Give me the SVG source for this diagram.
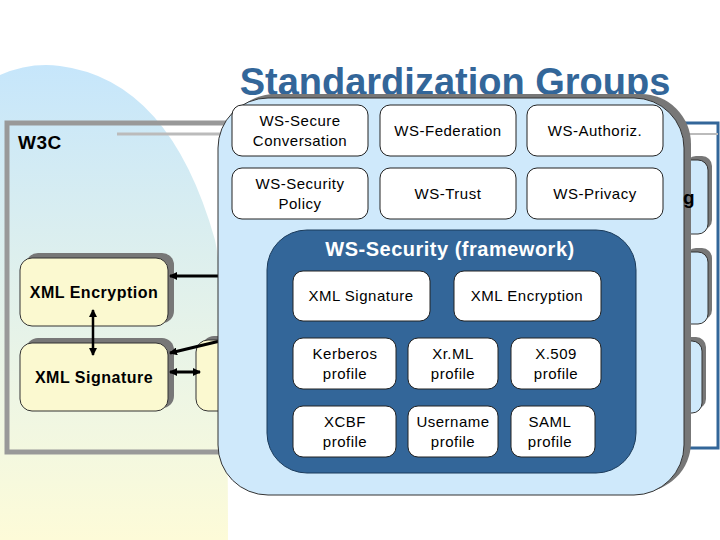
<svg xmlns="http://www.w3.org/2000/svg" width="720" height="540" viewBox="0 0 720 540">
<defs>
<linearGradient id="bg" x1="0" y1="0" x2="0" y2="1"><stop offset="0" stop-color="#c6e6fb"/><stop offset="0.7" stop-color="#eef6e4"/><stop offset="1" stop-color="#fdfbd8"/></linearGradient>
<marker id="ah" markerWidth="8" markerHeight="8" refX="7" refY="4" orient="auto-start-reverse" markerUnits="userSpaceOnUse"><path d="M0,0L8,4L0,8z" fill="#000"/></marker>
<style>
.t{font-family:"Liberation Sans",Arial,sans-serif;font-size:15px;fill:#000;text-anchor:middle;letter-spacing:0.5px}
.b{font-weight:bold}
.wb{fill:#fff;stroke:#222;stroke-width:1}
.yb{fill:#fbf9d0;stroke:#333;stroke-width:1}
.sh{fill:#777}
.c{stroke:#000;stroke-width:3;fill:none}
</style>
</defs>
<rect width="720" height="540" fill="#fff"/>
<path d="M0,75 Q30,62 60,66 Q170,80 215,240 Q228,300 228,540 L0,540Z" fill="url(#bg)"/>
<g id="w3c">
<rect x="7" y="123" width="240" height="329" fill="none" stroke="#999" stroke-width="5"/>
<line x1="117" y1="134" x2="240" y2="134" stroke="#bbb" stroke-width="3"/>
<text x="18" y="149" class="t b" style="text-anchor:start;font-size:19px">W3C</text>
</g>
<g id="right">
<rect x="648" y="123" width="70" height="325" fill="#fff" stroke="#336699" stroke-width="3"/>
<line x1="650" y1="134" x2="718" y2="134" stroke="#bbb" stroke-width="2"/>
<rect x="686" y="156" width="26" height="74" rx="10" class="sh"/><rect x="680" y="160" width="28" height="74" rx="10" fill="#cfe9fb" stroke="#333"/>
<rect x="686" y="248" width="26" height="72" rx="10" class="sh"/><rect x="680" y="252" width="28" height="72" rx="10" fill="#cfe9fb" stroke="#333"/>
<rect x="680" y="337" width="26" height="72" rx="10" class="sh"/><rect x="674" y="341" width="28" height="72" rx="10" fill="#cfe9fb" stroke="#333"/>
</g>
<g id="xmlenc"><rect x="26" y="253" width="148" height="70" rx="12" class="sh"/><rect x="20" y="258" width="148" height="68" rx="12" class="yb"/><text x="94" y="298" class="t b" style="font-size:16px">XML Encryption</text></g>
<g id="xmlsig"><rect x="26" y="338" width="148" height="70" rx="12" class="sh"/><rect x="20" y="343" width="148" height="68" rx="12" class="yb"/><text x="94" y="383" class="t b" style="font-size:16px">XML Signature</text></g>
<g id="partial"><rect x="202" y="336" width="40" height="72" rx="12" class="sh"/><rect x="196" y="340" width="44" height="71" rx="12" class="yb"/></g>
<g id="connectors">
<line x1="220" y1="276" x2="170" y2="276" class="c" marker-end="url(#ah)"/>
<line x1="220" y1="341" x2="170" y2="353" class="c" marker-end="url(#ah)"/>
<line x1="170" y1="372" x2="200" y2="372" class="c" marker-start="url(#ah)" marker-end="url(#ah)"/>
<line x1="93" y1="310" x2="93" y2="355" class="c" marker-start="url(#ah)" marker-end="url(#ah)" style="stroke-width:2.5"/>
</g>
<text x="455" y="95" class="t b" style="font-size:38px;fill:#336699;letter-spacing:0">Standardization Groups</text>
<g id="panel">
<rect x="225" y="94" width="466" height="398" rx="50" class="sh"/>
<rect x="218" y="98" width="466" height="397" rx="50" fill="#cfe9fb" stroke="#333"/>
</g>
<text x="683" y="204" class="t b" style="font-size:19px;text-anchor:start">g</text>
<g id="wssc"><rect x="232" y="105" width="136" height="51" rx="10" class="wb"/><text x="300" y="126" class="t">WS-Secure</text><text x="300" y="146" class="t">Conversation</text></g>
<g id="wsfed"><rect x="380" y="105" width="136" height="51" rx="10" class="wb"/><text x="448" y="136" class="t">WS-Federation</text></g>
<g id="wsauth"><rect x="527" y="105" width="136" height="51" rx="10" class="wb"/><text x="595" y="136" class="t">WS-Authoriz.</text></g>
<g id="wssp"><rect x="232" y="168" width="136" height="51" rx="10" class="wb"/><text x="300" y="189" class="t">WS-Security</text><text x="300" y="209" class="t">Policy</text></g>
<g id="wstrust"><rect x="380" y="168" width="136" height="51" rx="10" class="wb"/><text x="448" y="199" class="t">WS-Trust</text></g>
<g id="wspriv"><rect x="527" y="168" width="136" height="51" rx="10" class="wb"/><text x="595" y="199" class="t">WS-Privacy</text></g>
<g id="wssec">
<rect x="267" y="230" width="369" height="243" rx="40" fill="#336699" stroke="#1a3a5a"/>
<text x="450" y="256" class="t b" style="fill:#fff;font-size:20px">WS-Security (framework)</text>
</g>
<g id="sig"><rect x="293" y="271" width="137" height="50" rx="10" class="wb"/><text x="361" y="301" class="t">XML Signature</text></g>
<g id="enc"><rect x="454" y="271" width="147" height="50" rx="10" class="wb"/><text x="527" y="301" class="t">XML Encryption</text></g>
<g id="kerb"><rect x="293" y="338" width="103" height="51" rx="10" class="wb"/><text x="345" y="359" class="t">Kerberos</text><text x="345" y="379" class="t">profile</text></g>
<g id="xrml"><rect x="408" y="338" width="90" height="51" rx="10" class="wb"/><text x="453" y="359" class="t">Xr.ML</text><text x="453" y="379" class="t">profile</text></g>
<g id="x509"><rect x="511" y="338" width="90" height="51" rx="10" class="wb"/><text x="556" y="359" class="t">X.509</text><text x="556" y="379" class="t">profile</text></g>
<g id="xcbf"><rect x="293" y="406" width="103" height="51" rx="10" class="wb"/><text x="345" y="427" class="t">XCBF</text><text x="345" y="447" class="t">profile</text></g>
<g id="user"><rect x="408" y="406" width="90" height="51" rx="10" class="wb"/><text x="453" y="427" class="t">Username</text><text x="453" y="447" class="t">profile</text></g>
<g id="saml"><rect x="511" y="406" width="84" height="51" rx="10" class="wb"/><text x="550" y="427" class="t">SAML</text><text x="550" y="447" class="t">profile</text></g>
</svg>
